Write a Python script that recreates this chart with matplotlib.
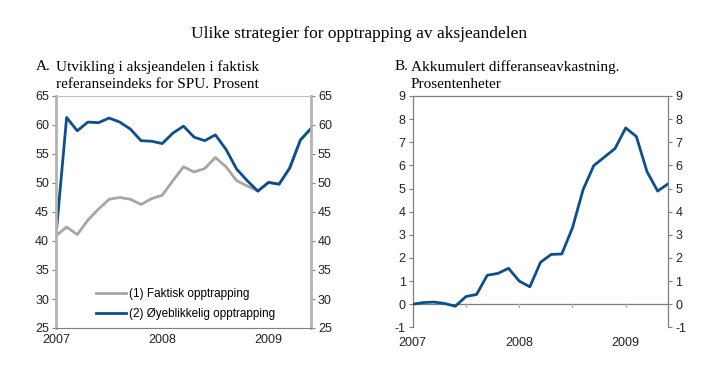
"""
Ulike strategier for opptrapping av aksjeandelen: two panels, share of equities
and accumulated return difference.
Output: out.png
"""

import numpy as np
import matplotlib.pyplot as plt

plt.rcParams.update({
    "font.family": ['Liberation Sans', 'DejaVu Sans'],
    "font.size": 9,
    "axes.linewidth": 1.0,
    "axes.unicode_minus": False,
})

SERIF = ['Liberation Serif', 'DejaVu Serif']
BLUE = '#0b4f8c'
GRAY = '#a6a6a6'
AXGRAY = '#7f7f7f'

# Periods: 25 observations, ten steps per year on the axis
years = ['2007', '2008', '2009']
year_pos = [0, 10, 20]

# Panel A: share of equities, percent
faktisk = [40.9, 42.4, 41.1, 43.6, 45.5, 47.2, 47.5, 47.2, 46.3, 47.3, 47.9,
           50.4, 52.8, 51.9, 52.5, 54.4, 52.8, 50.4, 49.5, 48.6, 50.1, 49.8,
           52.6, 57.4, 59.4]
oyeblikkelig = [40.9, 61.3, 59.0, 60.5, 60.4, 61.2, 60.5, 59.3, 57.3, 57.2,
                56.8, 58.6, 59.8, 57.9, 57.3, 58.3, 55.8, 52.4, 50.4, 48.6,
                50.1, 49.8, 52.6, 57.4, 59.4]

# Panel B: accumulated return difference, percentage points
differanse = [0.0, 0.07, 0.09, 0.03, -0.09, 0.33, 0.42, 1.25, 1.33, 1.55, 1.0,
              0.75, 1.81, 2.15, 2.17, 3.3, 4.95, 5.99, 6.36, 6.73, 7.62, 7.25,
              5.73, 4.89, 5.21]

t = np.arange(len(faktisk))

fig = plt.figure(figsize=(7.19, 3.83), dpi=100)
W, H = 719, 383


def add_axes_px(left, top, right, bottom):
    return fig.add_axes([left / W, 1 - bottom / H, (right - left) / W, (bottom - top) / H])


fig.text(0.5, 1 - 34 / H, "Ulike strategier for opptrapping av aksjeandelen",
         ha='center', va='center', fontsize=12.5, family=SERIF)

# ---- Panel A ----
axA = add_axes_px(56, 96, 311, 328)
axA.plot(t, faktisk, color=GRAY, lw=2.0, label='(1) Faktisk opptrapping')
axA.plot(t, oyeblikkelig, color=BLUE, lw=2.0, label='(2) Øyeblikkelig opptrapping')
axA.set_xlim(0, 24)
axA.set_ylim(25, 65)
axA.set_yticks(range(25, 66, 5))
axA.set_xticks(year_pos)
axA.set_xticklabels(years)
axA.tick_params(axis='x', length=0, pad=4, colors='#222222')
axA.tick_params(axis='y', length=3, width=0.8, color=AXGRAY, labelcolor='#222222',
                right=True, labelright=True, pad=2)
for side in ('left', 'right'):
    axA.spines[side].set_color('#b3b3b3')
    axA.spines[side].set_linewidth(2.0)
axA.spines['top'].set_color('#c0c0c0')
axA.spines['top'].set_linewidth(0.8)
axA.spines['bottom'].set_color(AXGRAY)
axA.spines['bottom'].set_linewidth(0.8)
axA.legend(loc='lower left', bbox_to_anchor=(0.14, 0.015), frameon=False,
           handlelength=2.5, handletextpad=0.3, labelspacing=0.65, fontsize=8.5,
           borderaxespad=0)

fig.text(36 / W, 1 - 67 / H, "A.", ha='left', va='center', fontsize=11, family=SERIF)
fig.text(56 / W, 1 - 67 / H, "Utvikling i aksjeandelen i faktisk",
         ha='left', va='center', fontsize=11, family=SERIF)
fig.text(56 / W, 1 - 85 / H, "referanseindeks for SPU. Prosent",
         ha='left', va='center', fontsize=11, family=SERIF)

# ---- Panel B ----
axB = add_axes_px(412.7, 96, 668.3, 327.3)
axB.plot(t, differanse, color=BLUE, lw=2.0, zorder=3)
axB.axhline(0, color=AXGRAY, lw=0.9, zorder=2)
axB.set_xlim(0, 24)
axB.set_ylim(-1, 9)
axB.set_yticks(range(-1, 10))
axB.set_xticks(year_pos)
axB.set_xticklabels(years)
axB.tick_params(axis='x', length=0, pad=7, colors='#222222')
axB.tick_params(axis='y', length=3, width=0.8, color=AXGRAY, labelcolor='#222222',
                right=True, labelright=True, pad=2)
for side in ('left', 'right', 'top'):
    axB.spines[side].set_color(AXGRAY)
    axB.spines[side].set_linewidth(0.9)
axB.spines['bottom'].set_visible(False)
# small tick marks hanging below the zero line
for xv in [5, 10, 15, 20]:
    axB.plot([xv, xv], [0, -0.12], color='#b0b0b0', lw=0.9, zorder=2)

fig.text(395 / W, 1 - 67 / H, "B.", ha='left', va='center', fontsize=11, family=SERIF)
fig.text(411 / W, 1 - 67 / H, "Akkumulert differanseavkastning.",
         ha='left', va='center', fontsize=11, family=SERIF)
fig.text(411 / W, 1 - 85 / H, "Prosentenheter",
         ha='left', va='center', fontsize=11, family=SERIF)

fig.savefig('out.png', dpi=100)
